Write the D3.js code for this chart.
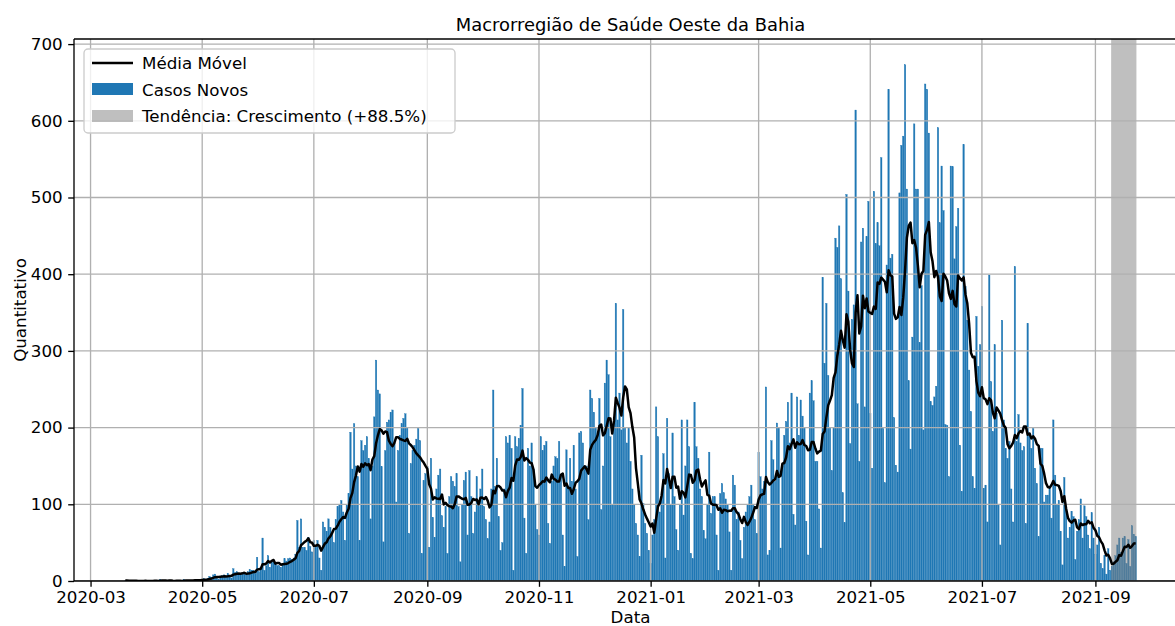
<!DOCTYPE html>
<html lang="pt-BR">
<head>
    <meta charset="UTF-8">
    <title>Macrorregião de Saúde Oeste da Bahia</title>
    <style>
        body { margin: 0; background: #fff; }
        svg text { font-family: "DejaVu Sans", sans-serif; fill: #000; }
        .grid line { stroke: #b0b0b0; stroke-width: 1.33px; }
    </style>
</head>
<body>
    <script src="https://cdn.jsdelivr.net/npm/d3@7"></script>
    <script>
        // casos novos diarios a partir de 2020-03-20 (uma semana por linha, sexta a quinta)
        var inicio = "2020-03-20";
        var casosNovos = [
            1, 0, 0, 0, 0, 1, 0,
            0, 0, 0, 0, 1, 0, 0,
            0, 0, 1, 0, 0, 2, 1,
            0, 0, 0, 1, 0, 0, 0,
            1, 0, 0, 0, 2, 1, 1,
            0, 1, 0, 1, 2, 1, 2,
            2, 3, 1, 3, 6, 5, 8,
            9, 4, 2, 5, 7, 8, 7,
            10, 6, 4, 16, 11, 12, 9,
            8, 10, 9, 8, 12, 15, 14,
            14, 10, 31, 12, 16, 56, 14,
            20, 33, 18, 27, 24, 22, 20,
            20, 18, 22, 29, 26, 29, 30,
            28, 30, 35, 79, 44, 81, 44,
            44, 40, 57, 45, 38, 53, 44,
            53, 30, 14, 77, 70, 65, 81,
            70, 62, 50, 80, 97, 100, 105,
            90, 53, 100, 114, 194, 146, 205,
            150, 136, 53, 183, 170, 177, 188,
            160, 81, 150, 214, 288, 249, 244,
            149, 51, 170, 207, 210, 220, 223,
            180, 103, 170, 190, 205, 212, 218,
            200, 62, 153, 170, 177, 185, 199,
            183, 36, 131, 140, 149, 44, 160,
            83, 57, 120, 138, 146, 85, 70,
            97, 36, 110, 136, 130, 123, 140,
            97, 25, 100, 131, 142, 60, 144,
            110, 62, 90, 136, 97, 120, 146,
            97, 80, 55, 77, 120, 249, 123,
            160, 84, 40, 50, 120, 188, 180,
            190, 173, 14, 188, 175, 186, 203,
            251, 82, 36, 173, 150, 180, 145,
            100, 67, 60, 188, 170, 177, 182,
            75, 49, 130, 150, 162, 160, 182,
            136, 60, 19, 171, 120, 160, 130,
            177, 120, 32, 193, 195, 180, 150,
            150, 80, 249, 238, 220, 200, 190,
            238, 93, 150, 258, 288, 269, 188,
            100, 208, 362, 210, 245, 197, 354,
            200, 180, 200, 156, 120, 100, 75,
            60, 32, 164, 101, 75, 62, 40,
            23, 60, 80, 227, 188, 90, 110,
            166, 30, 212, 140, 100, 193, 110,
            67, 40, 100, 210, 86, 150, 210,
            175, 36, 29, 233, 175, 160, 120,
            110, 66, 55, 100, 168, 88, 110,
            110, 60, 14, 114, 127, 115, 107,
            100, 64, 14, 138, 125, 80, 90,
            53, 29, 70, 90, 99, 110, 125,
            100, 80, 62, 168, 136, 120, 130,
            253, 34, 40, 183, 158, 130, 206,
            200, 43, 150, 190, 208, 233, 180,
            245, 87, 73, 240, 190, 236, 215,
            200, 78, 34, 245, 261, 235, 156,
            156, 94, 43, 396, 284, 362, 268,
            200, 144, 200, 447, 435, 463, 394,
            115, 76, 504, 378, 179, 341, 360,
            614, 231, 156, 442, 460, 227, 449,
            495, 218, 147, 508, 440, 467, 437,
            552, 199, 128, 412, 641, 421, 426,
            213, 151, 142, 506, 568, 580, 673,
            511, 261, 172, 318, 596, 511, 511,
            311, 385, 197, 648, 641, 584, 234,
            229, 240, 254, 591, 467, 541, 483,
            204, 203, 136, 541, 540, 420, 462,
            486, 177, 117, 569, 384, 340, 275,
            221, 136, 121, 345, 280, 308, 358,
            121, 125, 77, 399, 260, 195, 308,
            219, 99, 47, 340, 210, 173, 160,
            182, 120, 77, 410, 182, 217, 180,
            170, 175, 75, 336, 193, 173, 199,
            147, 127, 58, 173, 173, 103, 112,
            112, 121, 82, 210, 138, 100, 105,
            65, 21, 135, 95, 56, 70, 91,
            84, 28, 65, 80, 107, 56, 98,
            84, 60, 42, 89, 56, 35, 47,
            70, 23, 16, 33, 9, 42, 14,
            19, 25, 33, 47, 56, 37, 56,
            58, 23, 54, 19, 72, 61, 58
        ];
        var yTicks = [0, 100, 200, 300, 400, 500, 600, 700];
        var janelaMedia = 7;
        var diasTendencia = 14;
        var titulo = "Macrorregião de Saúde Oeste da Bahia";
        var legendas = ["Média Móvel", "Casos Novos", "Tendência: Crescimento (+88.5%)"];

        var width = 1175, height = 626;
        var DAY = 864e5;
        var t0 = new Date(inicio + "T00:00:00Z");

        var dados = casosNovos.map(function(v, i) {
            return { data: new Date(t0.getTime() + i * DAY), valor: v };
        });
        // media movel de 7 dias (com os dias disponiveis no comeco)
        dados.forEach(function(d, i) {
            var j0 = Math.max(0, i - janelaMedia + 1), s = 0;
            for (var j = j0; j <= i; j++) s += dados[j].valor;
            d.media = s / (i - j0 + 1);
        });

        var primeiro = dados[0].data, ultimo = dados[dados.length - 1].data;
        var xmin = primeiro.getTime() - 0.4 * DAY, xmax = ultimo.getTime() + 0.4 * DAY;
        var pad = (xmax - xmin) * 0.05;

        var x = d3.scaleUtc()
            .domain([new Date(xmin - pad), new Date(xmax + pad)])
            .range([74, 1187]);
        var y = d3.scaleLinear()
            .domain([0, d3.max(casosNovos) * 1.05])
            .range([581, 39]);

        var svg = d3.select("body").append("svg")
            .attr("width", width)
            .attr("height", height);

        svg.append("defs").append("clipPath").attr("id", "plot")
            .append("rect").attr("x", 74).attr("y", 39).attr("width", 1113).attr("height", 542);

        var plot = svg.append("g").attr("clip-path", "url(#plot)");

        // barras
        plot.append("g").selectAll("rect")
            .data(dados)
            .enter().append("rect")
            .attr("x", function(d) { return x(new Date(d.data.getTime() - 0.4 * DAY)); })
            .attr("width", function(d) { return x(new Date(d.data.getTime() + 0.4 * DAY)) - x(new Date(d.data.getTime() - 0.4 * DAY)); })
            .attr("y", function(d) { return y(d.valor); })
            .attr("height", function(d) { return y(0) - y(d.valor); })
            .attr("fill", "#1f77b4")
            .attr("stroke", "#1f77b4")
            .attr("stroke-width", 0.35);

        // faixa da tendencia
        var iniTend = dados[dados.length - diasTendencia].data;
        plot.append("rect")
            .attr("x", x(new Date(iniTend.getTime() - 0.4 * DAY)))
            .attr("width", x(new Date(xmax)) - x(new Date(iniTend.getTime() - 0.4 * DAY)))
            .attr("y", y.range()[1])
            .attr("height", y.range()[0] - y.range()[1])
            .attr("fill", "#808080")
            .attr("fill-opacity", 0.5);

        // grade
        var xTicks = x.ticks(d3.utcMonth.every(2));
        var grid = plot.append("g").attr("class", "grid");
        grid.selectAll(".gx").data(xTicks).enter().append("line")
            .attr("x1", function(d) { return x(d); }).attr("x2", function(d) { return x(d); })
            .attr("y1", 39).attr("y2", 581);
        grid.selectAll(".gy").data(yTicks).enter().append("line")
            .attr("x1", 74).attr("x2", 1187)
            .attr("y1", function(d) { return y(d); }).attr("y2", function(d) { return y(d); });

        // media movel
        plot.append("path")
            .datum(dados)
            .attr("fill", "none")
            .attr("stroke", "#000")
            .attr("stroke-width", 2.5)
            .attr("stroke-linejoin", "round")
            .attr("d", d3.line()
                .x(function(d) { return x(d.data); })
                .y(function(d) { return y(d.media); }));

        // eixos
        var xAxis = svg.append("g")
            .attr("transform", "translate(0,581)")
            .call(d3.axisBottom(x).tickValues(xTicks).tickFormat(d3.utcFormat("%Y-%m")).tickSize(5.8).tickPadding(4));
        var yAxis = svg.append("g")
            .attr("transform", "translate(74,0)")
            .call(d3.axisLeft(y).tickValues(yTicks).tickSize(5.8).tickPadding(5.5));
        [xAxis, yAxis].forEach(function(a) {
            a.select(".domain").remove();
            a.selectAll("line").attr("stroke", "#000").attr("stroke-width", 1.33);
            a.selectAll("text").attr("font-size", "16.7px").attr("font-family", "DejaVu Sans");
        });

        // bordas
        svg.append("line").attr("x1", 74).attr("x2", 1187).attr("y1", 581).attr("y2", 581)
            .attr("stroke", "#000").attr("stroke-width", 1.33);
        svg.append("line").attr("x1", 74).attr("x2", 1187).attr("y1", 39).attr("y2", 39)
            .attr("stroke", "#000").attr("stroke-width", 1.33);
        svg.append("line").attr("x1", 74).attr("x2", 74).attr("y1", 39).attr("y2", 581)
            .attr("stroke", "#000").attr("stroke-width", 1.33);

        // textos
        svg.append("text").attr("x", 630.5).attr("y", 31)
            .attr("text-anchor", "middle").attr("font-size", "17.9px").text(titulo);
        svg.append("text").attr("x", 630.5).attr("y", 622.5)
            .attr("text-anchor", "middle").attr("font-size", "16.7px").text("Data");
        svg.append("text").attr("transform", "translate(26,310) rotate(-90)")
            .attr("text-anchor", "middle").attr("font-size", "16.7px").text("Quantitativo");

        // legenda
        var leg = svg.append("g");
        leg.append("rect").attr("x", 84).attr("y", 49).attr("width", 371).attr("height", 84)
            .attr("rx", 4).attr("fill", "#fff").attr("fill-opacity", 0.8)
            .attr("stroke", "#cccccc").attr("stroke-width", 1.33);
        leg.append("line").attr("x1", 92).attr("x2", 133).attr("y1", 63).attr("y2", 63)
            .attr("stroke", "#000").attr("stroke-width", 2.5);
        leg.append("rect").attr("x", 92).attr("y", 83).attr("width", 41).attr("height", 12)
            .attr("fill", "#1f77b4");
        leg.append("rect").attr("x", 92).attr("y", 110).attr("width", 41).attr("height", 12)
            .attr("fill", "#808080").attr("fill-opacity", 0.5);
        leg.selectAll(".lt").data(legendas).enter().append("text")
            .attr("x", 142)
            .attr("y", function(d, i) { return 69 + i * 26.5; })
            .attr("font-size", "16.7px")
            .text(function(d) { return d; });
    </script>
</body>
</html>
